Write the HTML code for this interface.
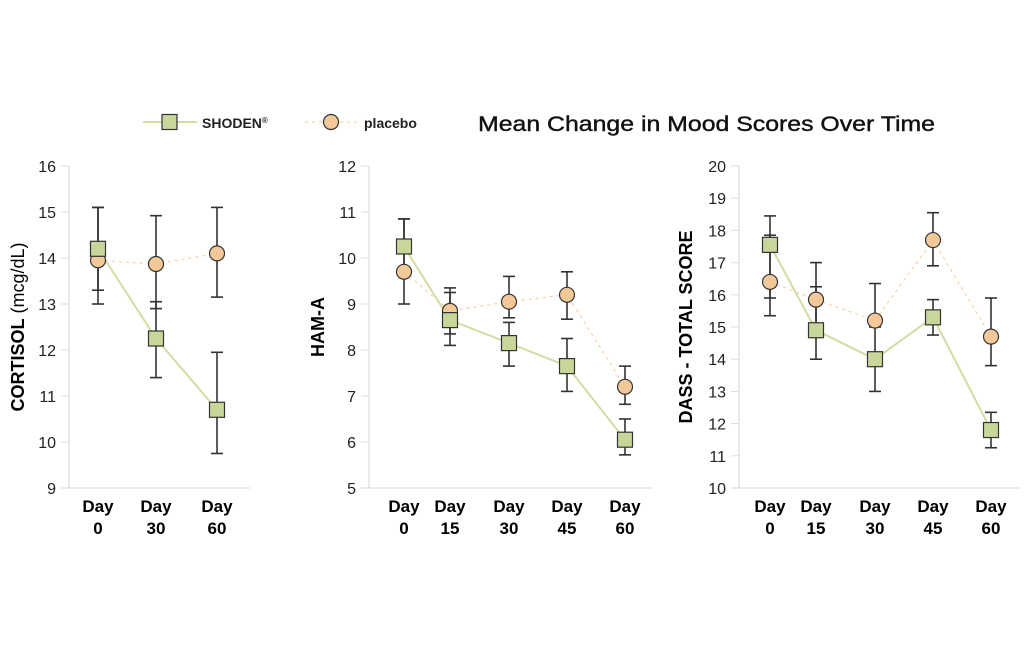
<!DOCTYPE html>
<html><head><meta charset="utf-8"><style>
body{margin:0;background:#fff;width:1024px;height:649px;overflow:hidden}
svg text{font-family:"Liberation Sans",sans-serif}
</style></head><body>
<svg id="s" width="1024" height="649" xmlns="http://www.w3.org/2000/svg"></svg>
<script>
const s=document.getElementById('s');let h='';
const G='#d4dca4',GF='#c9d69a',O='#f3c99a';
function chart(ax,xend,ymin,ymax,xs,labels,sh,pl){
  const y0=166,y1=488,sc=(y1-y0)/(ymax-ymin),Y=v=>y1-(v-ymin)*sc;
  h+=`<line x1="${ax}" y1="${y0}" x2="${ax}" y2="${y1}" stroke="#ddd" stroke-width="1.2"/>`;
  h+=`<line x1="${ax-8}" y1="${y1}" x2="${xend}" y2="${y1}" stroke="#ddd" stroke-width="1.2"/>`;
  for(let v=ymin;v<=ymax;v++){h+=`<line x1="${ax-8}" y1="${Y(v)}" x2="${ax}" y2="${Y(v)}" stroke="#ddd"/><text x="${ax-13}" y="${Y(v)+6}" font-size="16" text-anchor="end" fill="#222">${v}</text>`;}
  xs.forEach((x,i)=>{h+=`<text x="${x}" y="512" font-size="17" font-weight="bold" text-anchor="middle">Day</text><text x="${x}" y="534" font-size="17" font-weight="bold" text-anchor="middle">${labels[i]}</text>`;});
  h+=`<polyline points="${pl.map((d,i)=>xs[i]+','+Y(d[0])).join(' ')}" fill="none" stroke="${O}" stroke-width="1" stroke-dasharray="3,4"/>`;
  h+=`<polyline points="${sh.map((d,i)=>xs[i]+','+Y(d[0])).join(' ')}" fill="none" stroke="${G}" stroke-width="2"/>`;
  [pl,sh].forEach(ds=>ds.forEach((d,i)=>{const x=xs[i];h+=`<line x1="${x}" y1="${Y(d[1])}" x2="${x}" y2="${Y(d[2])}" stroke="#333" stroke-width="1.6"/><line x1="${x-6}" y1="${Y(d[1])}" x2="${x+6}" y2="${Y(d[1])}" stroke="#333" stroke-width="1.6"/><line x1="${x-6}" y1="${Y(d[2])}" x2="${x+6}" y2="${Y(d[2])}" stroke="#333" stroke-width="1.6"/>`;}));
  pl.forEach((d,i)=>h+=`<circle cx="${xs[i]}" cy="${Y(d[0])}" r="7.5" fill="${O}" stroke="#333" stroke-width="1.2"/>`);
  sh.forEach((d,i)=>h+=`<rect x="${xs[i]-7.5}" y="${Y(d[0])-7.5}" width="15" height="15" fill="${GF}" stroke="#333" stroke-width="1.2"/>`);
}
chart(69,250,9,16,[98,156,217],['0','30','60'],
 [[14.2,15.1,13.3],[12.25,13.05,11.4],[10.7,11.95,9.75]],
 [[13.95,15.1,13.0],[13.87,14.92,12.9],[14.1,15.1,13.15]]);
chart(369,652,5,12,[404,450,509,567,625],['0','15','30','45','60'],
 [[10.25,10.85,9.7],[8.65,9.25,8.35],[8.15,8.6,7.65],[7.65,8.25,7.1],[6.05,6.5,5.72]],
 [[9.7,10.85,9.0],[8.85,9.35,8.1],[9.05,9.6,8.7],[9.2,9.7,8.67],[7.2,7.65,6.82]]);
chart(739,1020,10,20,[770,816,875,933,991],['0','15','30','45','60'],
 [[17.55,17.85,15.9],[14.9,16.25,14.7],[14.0,15.05,13.0],[15.3,15.85,14.75],[11.8,12.35,11.25]],
 [[16.4,18.45,15.35],[15.85,17.0,14.0],[15.2,16.35,15.0],[17.7,18.55,16.9],[14.7,15.9,13.8]]);
h+=`<text transform="translate(24,327) rotate(-90)" font-size="18" text-anchor="middle"><tspan font-weight="bold">CORTISOL</tspan> (mcg/dL)</text>`;
h+=`<text transform="translate(324,327) rotate(-90)" font-size="18" font-weight="bold" text-anchor="middle">HAM-A</text>`;
h+=`<text transform="translate(692,327) rotate(-90)" font-size="18" font-weight="bold" text-anchor="middle">DASS - TOTAL SCORE</text>`;
h+=`<line x1="143" y1="122" x2="197" y2="122" stroke="${G}" stroke-width="2"/><rect x="162" y="114.5" width="15" height="15" fill="${GF}" stroke="#333" stroke-width="1.2"/><text x="202" y="128" font-size="14" font-weight="bold" fill="#222">SHODEN<tspan font-size="8" dy="-5">®</tspan></text>`;
h+=`<line x1="305" y1="122" x2="358" y2="122" stroke="${O}" stroke-dasharray="3,4"/><circle cx="331" cy="122" r="7.5" fill="${O}" stroke="#333" stroke-width="1.2"/><text x="364" y="128" font-size="14" font-weight="bold" fill="#222">placebo</text>`;
h+=`<text x="478" y="131" font-size="21" fill="#111" font-family="DejaVu Sans" textLength="457" lengthAdjust="spacingAndGlyphs" stroke="#111" stroke-width="0.4">Mean Change in Mood Scores Over Time</text>`;
s.innerHTML=h;
</script>
</body></html>
